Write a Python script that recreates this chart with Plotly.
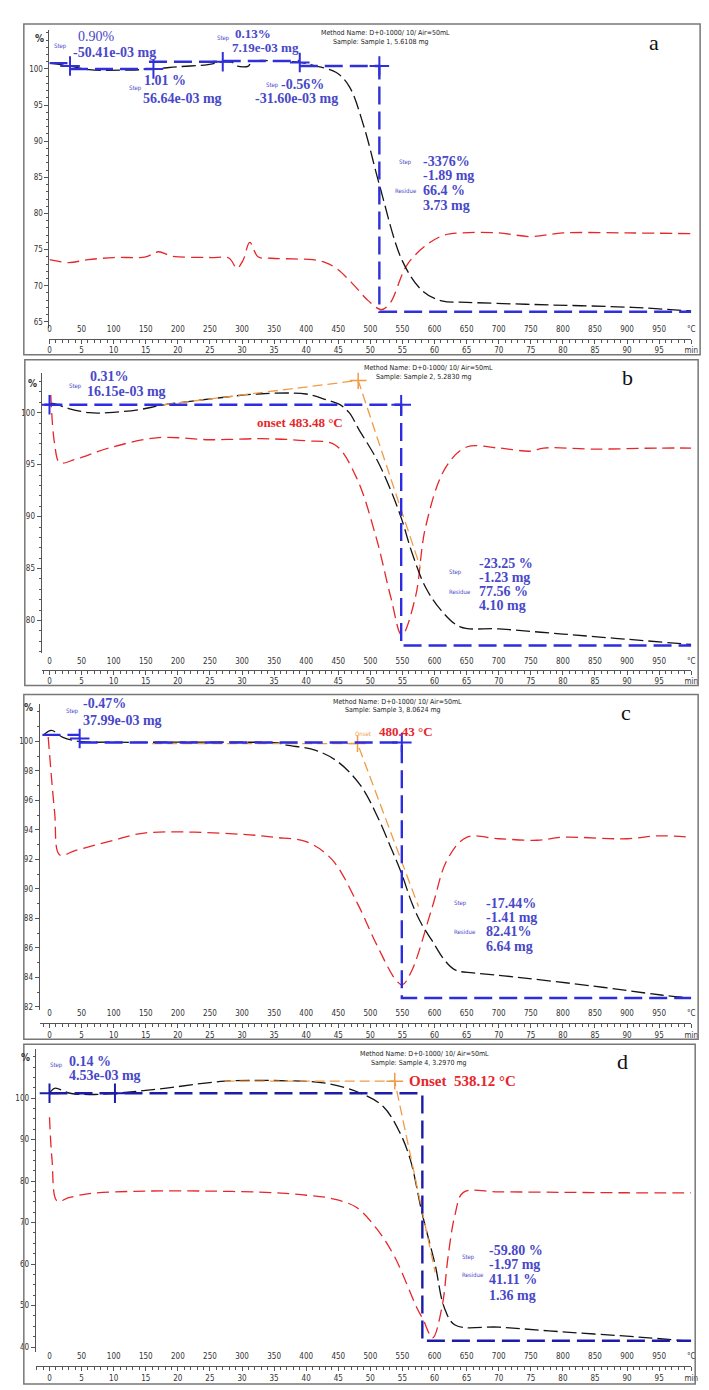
import plotly.graph_objects as go

W, H = 709, 1390

# ---------------- data ----------------
# panel a
a_tg_t = [0, 32, 62, 124, 162, 200, 247, 270, 285, 293, 310, 315, 355, 390, 416, 447, 467, 490, 514, 550, 581, 611, 650, 754, 908, 1000]
a_tg_v = [100.8, 100.4, 99.9, 99.85, 100.0, 100.3, 100.6, 101.0, 100.9, 100.4, 100.4, 101.0, 101.1, 100.9, 100.4, 99.5, 97.6, 92.0, 84.0, 73.4, 69.3, 67.9, 67.7, 67.4, 67.0, 66.5]
a_dtg_t = [0, 30, 60, 100, 150, 170, 190, 250, 280, 292, 302, 312, 325, 345, 380, 410, 430, 447, 470, 497, 517, 530, 558, 590, 615, 640, 700, 750, 800, 900, 1000]
a_dtg_v = [73.6, 73.2, 73.6, 73.9, 74.0, 74.7, 74.1, 73.9, 73.8, 72.4, 73.6, 76.0, 74.0, 73.8, 73.7, 73.6, 73.2, 72.4, 70.5, 67.9, 66.7, 67.5, 73.0, 75.8, 77.0, 77.3, 77.3, 76.8, 77.3, 77.3, 77.2]
a_step_t = [0, 32, None, 32, 162, None, 155, 270, None, 270, 390, None, 390, 514, 514, 1000]
a_step_v = [100.8, 100.8, None, 100.0, 100.0, None, 101.0, 101.0, None, 101.1, 101.1, None, 100.4, 100.4, 66.4, 66.4]
a_mark_t = [32, 162, 270, 390, 514]
a_mark_v = [100.4, 100.0, 101.0, 100.9, 100.4]
a_yticks = [65, 70, 75, 80, 85, 90, 95, 100]

# panel b
b_tg_t = [0, 5, 30, 62, 92, 140, 178, 247, 324, 400, 431, 452, 467, 482, 510, 530, 548, 565, 586, 610, 640, 700, 800, 900, 1000]
b_tg_v = [100.8, 100.9, 100.4, 100.0, 100.0, 100.3, 100.75, 101.3, 101.8, 101.8, 101.25, 100.8, 100.0, 98.4, 95.5, 92.8, 89.9, 86.5, 83.2, 81.0, 79.4, 79.2, 78.7, 78.2, 77.7]
b_dtg_t = [2, 8, 16, 40, 92, 170, 250, 330, 400, 445, 478, 509, 532, 549, 570, 586, 617, 650, 700, 750, 770, 850, 950, 1000]
b_dtg_v = [101.7, 97.0, 95.2, 95.5, 96.6, 97.6, 97.4, 97.5, 97.3, 96.9, 93.8, 88.0, 82.2, 78.6, 82.2, 89.0, 94.7, 96.7, 96.6, 96.3, 96.6, 96.5, 96.6, 96.6]
b_step_t = [-8, 548, 548, 1000]
b_step_v = [100.77, 100.77, 77.6, 77.6]
b_mark_t = [0, 548]
b_mark_v = [100.77, 100.77]
b_onset_t = [178, 481, 578]
b_onset_v = [100.77, 103.1, 85.1]
b_yticks = [80, 85, 90, 95, 100]

# panel c
c_tg_t = [-10, 3, 20, 47, 100, 200, 300, 355, 370, 415, 450, 485, 510, 530, 549, 565, 580, 596, 615, 632, 660, 708, 848, 953, 1000]
c_tg_v = [100.4, 100.75, 100.3, 100.0, 99.95, 99.95, 99.95, 99.9, 99.75, 99.4, 98.6, 97.0, 95.0, 93.0, 91.0, 89.0, 87.6, 86.5, 85.2, 84.5, 84.3, 84.1, 83.4, 82.8, 82.6]
c_dtg_t = [-2, 8, 16, 40, 100, 150, 300, 350, 400, 440, 480, 510, 540, 550, 565, 596, 620, 650, 700, 760, 800, 900, 950, 1000]
c_dtg_v = [100.3, 95.2, 92.3, 92.6, 93.3, 93.8, 93.7, 93.5, 93.2, 92.0, 89.0, 86.2, 83.8, 83.5, 84.5, 88.7, 92.0, 93.5, 93.4, 93.3, 93.5, 93.4, 93.6, 93.5]
c_step_t = [-11, 47, None, 47, 549, 549, 1000]
c_step_v = [100.45, 100.45, None, 99.93, 99.93, 82.6, 82.6]
c_mark_t = [47, 549]
c_mark_v = [100.2, 99.93]
c_onset_t = [160, 480, 575]
c_onset_v = [99.86, 99.86, 88.8]
c_yticks = [82, 84, 86, 88, 90, 92, 94, 96, 98, 100]

# panel d
d_tg_t = [0, 8, 32, 62, 102, 170, 273, 370, 431, 485, 520, 545, 562, 581, 601, 615, 632, 700, 778, 918, 1000]
d_tg_v = [101.2, 102.4, 101.2, 100.9, 101.2, 102.2, 104.1, 104.2, 103.6, 101.2, 98.0, 92.0, 85.3, 72.0, 59.8, 49.6, 45.3, 44.8, 43.9, 42.4, 41.4]
d_dtg_t = [0, 4, 12, 30, 62, 150, 250, 350, 401, 440, 478, 510, 538, 572, 582, 597, 612, 621, 632, 645, 700, 800, 900, 1000]
d_dtg_v = [95.4, 85.1, 75.2, 76.0, 77.0, 77.6, 77.6, 77.2, 76.6, 75.8, 73.7, 68.5, 61.7, 49.6, 46.7, 42.2, 50.0, 61.7, 72.0, 77.3, 77.4, 77.3, 77.2, 77.2]
d_step_t = [0, 581, 581, 1000]
d_step_v = [101.2, 101.2, 41.5, 41.5]
d_mark_t = [0, 102]
d_mark_v = [101.2, 101.2]
d_onset_t = [273, 538, 601]
d_onset_v = [104.1, 104.1, 58.0]
d_yticks = [40, 50, 60, 70, 80, 90, 100]

temp_ticks = list(range(0, 1000, 50))
min_ticks = list(range(0, 100, 5))

# ---------------- layout helpers ----------------
def px(x):
    return x / W


def py(y):
    return 1 - y / H


BLACK = '#151515'
RED = '#e6262b'
ORANGE = '#f29b45'
STEPTXT = '#4848c8'
SERIF = 'Liberation Serif'
SANS = 'DejaVu Sans Condensed, Liberation Sans'

# box, y-axis x, y calibration (value, pixel, px/unit), y top/bottom px, ticks, x-rows
panels = [
    dict(box=(14, 16, 699, 347), yx=40, v0=100, p0=61, s=7.23, top=22, bot=320, yticks=a_yticks, minor=1,
         tlab=322, trow=331, blue='#3030d8',
         tg=(a_tg_t, a_tg_v), dtg=(a_dtg_t, a_dtg_v), step=(a_step_t, a_step_v), mark=(a_mark_t, a_mark_v), onset=None),
    dict(box=(15, 352, 697, 678), yx=32, v0=100, p0=405, s=10.4, top=365, bot=645, yticks=b_yticks, minor=1,
         tlab=654, trow=662, blue='#2c2ce0',
         tg=(b_tg_t, b_tg_v), dtg=(b_dtg_t, b_dtg_v), step=(b_step_t, b_step_v), mark=(b_mark_t, b_mark_v), onset=(b_onset_t, b_onset_v)),
    dict(box=(14, 687, 697, 1032), yx=30, v0=100, p0=734, s=14.75, top=697, bot=1003, yticks=c_yticks, minor=1,
         tlab=1007, trow=1016, blue='#2c2ce0',
         tg=(c_tg_t, c_tg_v), dtg=(c_dtg_t, c_dtg_v), step=(c_step_t, c_step_v), mark=(c_mark_t, c_mark_v), onset=(c_onset_t, c_onset_v)),
    dict(box=(14, 1037, 694, 1377), yx=26, v0=100, p0=1091, s=4.15, top=1042, bot=1345, yticks=d_yticks, minor=2.5,
         tlab=1350, trow=1359, blue='#1c1ca8',
         tg=(d_tg_t, d_tg_v), dtg=(d_dtg_t, d_dtg_v), step=(d_step_t, d_step_v), mark=(d_mark_t, d_mark_v), onset=(d_onset_t, d_onset_v)),
]

T0_PX, T_SCALE, XRIGHT = 40, 0.65, 690

fig = go.Figure()
shapes = []

for i, p in enumerate(panels, start=1):
    xa = 'x' if i == 1 else f'x{i}'
    ya = 'y' if i == 1 else f'y{i}'
    xm = f'x{i + 4}'
    xkey = 'xaxis' if i == 1 else f'xaxis{i}'
    ykey = 'yaxis' if i == 1 else f'yaxis{i}'
    xmkey = f'xaxis{i + 4}'

    t_left = (p['yx'] - T0_PX) / T_SCALE
    y_hi = p['v0'] + (p['p0'] - p['top']) / p['s']
    y_lo = p['v0'] - (p['bot'] - p['p0']) / p['s']
    tick_font = dict(family=SANS, size=8, color='#333')

    fig.update_layout({
        xkey: dict(domain=[px(p['yx']), px(XRIGHT)], range=[t_left, 1000], anchor='free',
                   position=py(p['tlab'] - 7), showline=False, showgrid=False, zeroline=False, ticks='',
                   tickvals=temp_ticks + [1000], ticktext=[str(v) for v in temp_ticks] + ['°C'],
                   tickfont=tick_font),
        xmkey: dict(overlaying=xa, range=[t_left / 10, 100], anchor='free', position=py(p['trow']),
                    showline=True, linecolor='#555', linewidth=1, showgrid=False, zeroline=False,
                    ticks='outside', ticklen=4, tickcolor='#555', tickvals=min_ticks + [100],
                    ticktext=[str(v) for v in min_ticks] + ['min'], tickfont=tick_font,
                    minor=dict(dtick=1, ticks='outside', ticklen=3, tickcolor='#555')),
        ykey: dict(domain=[py(p['bot']), py(p['top'])], range=[y_lo, y_hi], anchor=xa,
                   showline=True, linecolor='#555', linewidth=1, showgrid=False, zeroline=False,
                   ticks='outside', ticklen=4, tickcolor='#555', tickvals=p['yticks'], tickfont=tick_font,
                   minor=dict(dtick=p['minor'], ticks='outside', ticklen=2, tickcolor='#555')),
    })

    # dummy trace so the minute axis is drawn
    fig.add_trace(go.Scatter(x=[0, 100], y=[None, None], xaxis=xm, yaxis=ya, showlegend=False,
                             hoverinfo='skip'))

    fig.add_trace(go.Scatter(x=p['dtg'][0], y=p['dtg'][1], xaxis=xa, yaxis=ya, mode='lines',
                             line=dict(color=RED, width=1.3, dash='12px,6px', shape='spline'),
                             showlegend=False))
    fig.add_trace(go.Scatter(x=p['tg'][0], y=p['tg'][1], xaxis=xa, yaxis=ya, mode='lines',
                             line=dict(color=BLACK, width=1.3, dash='14px,5px', shape='spline'),
                             showlegend=False))
    if p['onset'] is not None:
        fig.add_trace(go.Scatter(x=p['onset'][0], y=p['onset'][1], xaxis=xa, yaxis=ya, mode='lines',
                                 line=dict(color=ORANGE, width=1.3, dash='10px,5px'), showlegend=False))
        fig.add_trace(go.Scatter(x=p['onset'][0][1:2], y=p['onset'][1][1:2], xaxis=xa, yaxis=ya,
                                 mode='markers', marker=dict(symbol='cross-thin', size=12,
                                                             line=dict(color=ORANGE, width=1.5)),
                                 showlegend=False))
    fig.add_trace(go.Scatter(x=p['step'][0], y=p['step'][1], xaxis=xa, yaxis=ya, mode='lines',
                             line=dict(color=p['blue'], width=2.4, dash='18px,7px'), showlegend=False))
    fig.add_trace(go.Scatter(x=p['mark'][0], y=p['mark'][1], xaxis=xa, yaxis=ya, mode='markers',
                             marker=dict(symbol='cross-thin', size=14, line=dict(color=p['blue'], width=2)),
                             showlegend=False))

    x0, y0, x1, y1 = p['box']
    shapes.append(dict(type='rect', xref='paper', yref='paper', x0=px(x0), x1=px(x1), y0=py(y1), y1=py(y0),
                       line=dict(color='#777', width=1.5)))

# ---------------- texts ----------------
notes = []


def txt(x, y, s, size=14, color=STEPTXT, bold=True, family=SERIF, anchor='left'):
    notes.append(dict(x=px(x), y=py(y), xref='paper', yref='paper', text=f'<b>{s}</b>' if bold else s,
                      showarrow=False, xanchor=anchor, yanchor='middle',
                      font=dict(family=family, size=size, color=color)))


def small(x, y, s, color=STEPTXT):
    txt(x, y, s, size=6, color=color, bold=False, family=SANS)


def method(x, y, sample):
    txt(x, y, 'Method Name: D+0-1000/ 10/ Air=50mL', size=7, color='#222', bold=False, family=SANS)
    txt(x + 12, y + 9, sample, size=7, color='#222', bold=False, family=SANS)


# panel a
txt(30, 31, '%', 10, '#333', True, SANS, 'center')
small(43, 38, 'Step'); txt(67, 29, '0.90%', bold=False); txt(62, 45, '-50.41e-03 mg')
small(118, 80, 'Step'); txt(134, 73, '1.01 %'); txt(133, 91, '56.64e-03 mg')
small(208, 30, 'Step'); txt(226, 26, '0.13%', 13); txt(223, 40, '7.19e-03 mg', 13)
small(257, 77, 'Step'); txt(272, 77, '-0.56%'); txt(246, 91, '-31.60e-03 mg')
small(392, 154, 'Step'); txt(416, 154, '-3376%'); txt(416, 168, '-1.89 mg')
small(388, 183, 'Residue'); txt(416, 183, '66.4 %'); txt(416, 198, '3.73 mg')
method(313, 25, 'Sample: Sample 1, 5.6108 mg')
txt(652, 35, 'a', 22, '#111', False, SERIF, 'center')

# panel b
txt(23, 376, '%', 10, '#333', True, SANS, 'center')
small(58, 378, 'Step'); txt(79, 369, '0.31%'); txt(76, 384, '16.15e-03 mg')
txt(248, 415, 'onset 483.48 °C', 13, RED)
txt(473, 556, '-23.25 %'); small(443, 564, 'Step'); txt(473, 570, '-1.23 mg')
small(443, 584, 'Residue'); txt(473, 584, '77.56 %'); txt(473, 598, '4.10 mg')
method(357, 360, 'Sample: Sample 2, 5.2830 mg')
txt(625, 370, 'b', 22, '#111', False, SERIF, 'center')

# panel c
txt(19, 700, '%', 10, '#333', True, SANS, 'center')
small(55, 704, 'Step'); txt(72, 696, '-0.47%'); txt(72, 713, '37.99e-03 mg')
small(347, 726, 'Onset', ORANGE); txt(372, 724, '480.43 °C', 13, RED)
small(448, 896, 'Step'); txt(480, 896, '-17.44%'); txt(480, 910, '-1.41 mg')
small(448, 924, 'Residue'); txt(480, 924, '82.41%'); txt(480, 939, '6.64 mg')
method(325, 694, 'Sample: Sample 3, 8.0624 mg')
txt(624, 705, 'c', 22, '#111', False, SERIF, 'center')

# panel d
txt(16, 1050, '%', 10, '#333', True, SANS, 'center')
small(38, 1058, 'Step'); txt(58, 1054, '0.14 %'); txt(58, 1068, '4.53e-03 mg')
txt(402, 1074, 'Onset  538.12 °C', 15, RED)
txt(483, 1243, '-59.80 %'); small(456, 1250, 'Step'); txt(483, 1257, '-1.97 mg')
small(456, 1267, 'Residue'); txt(483, 1272, '41.11 %'); txt(483, 1288, '1.36 mg')
method(352, 1047, 'Sample: Sample 4, 3.2970 mg')
txt(620, 1054, 'd', 22, '#111', False, SERIF, 'center')

fig.update_layout(width=W, height=H, margin=dict(l=0, r=0, t=0, b=0), paper_bgcolor='white',
                  plot_bgcolor='rgba(0,0,0,0)', showlegend=False, shapes=shapes, annotations=notes)

fig.write_html('out.html')
